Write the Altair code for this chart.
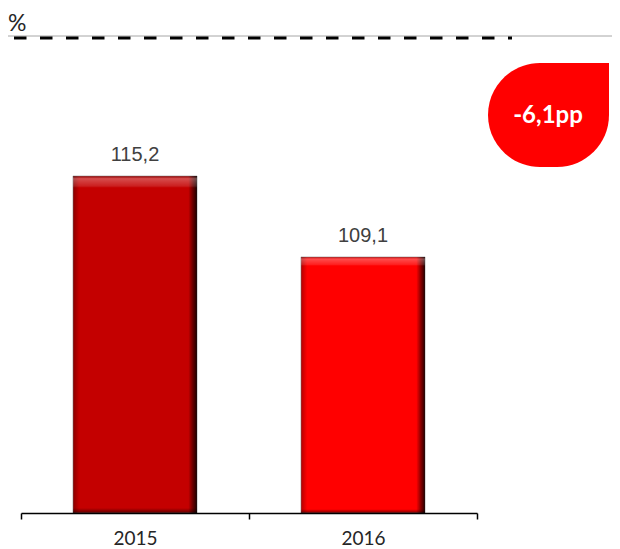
import altair as alt
import pandas as pd

# ---- data ----
years = ["2015", "2016"]
values = [115.2, 109.1]
bar_colors = ["#C40000", "#FF0000"]
labels = ["115,2", "109,1"]
unit_label = "%"
badge_label = "-6,1pp"

df = pd.DataFrame({"year": years, "value": values, "color": bar_colors, "label": labels})

Y_MIN, Y_MAX = 89.8, 127.86

x_enc = alt.X(
    "year:N",
    sort=years,
    title=None,
    scale=alt.Scale(range=[13, 469], paddingInner=0, paddingOuter=0),
    axis=alt.Axis(
        labelAngle=0,
        labelFont="Lato",
        labelFontSize=19,
        labelColor="#262626",
        labelPadding=10,
        domainColor="#000000",
        domainWidth=1.5,
        tickColor="#000000",
        tickWidth=1.5,
        tickSize=6,
        tickBand="extent",
        grid=False,
        zindex=1,
    ),
)
y_enc = alt.Y(
    "value:Q",
    scale=alt.Scale(domain=[Y_MIN, Y_MAX], nice=False, zero=False),
    axis=None,
)

base = alt.Chart(df).encode(x=x_enc, y=y_enc, y2=alt.Y2(datum=Y_MIN))

bw = alt.RelativeBandSize(0.544)

bars = base.mark_bar(width=bw, stroke="#9a9a9a", strokeWidth=1, strokeOpacity=0.6).encode(
    color=alt.Color("color:N", scale=None)
)

shade_h = base.mark_bar(
    width=bw,
    fill=alt.Gradient(
        gradient="linear",
        x1=0, x2=1, y1=0, y2=0,
        stops=[
            alt.GradientStop(color="rgba(0,0,0,0.30)", offset=0),
            alt.GradientStop(color="rgba(0,0,0,0.0)", offset=0.05),
            alt.GradientStop(color="rgba(0,0,0,0.0)", offset=0.93),
            alt.GradientStop(color="rgba(0,0,0,0.45)", offset=0.965),
            alt.GradientStop(color="rgba(0,0,0,0.85)", offset=1),
        ],
    ),
)

shade_v = base.mark_bar(
    width=bw,
    fill=alt.Gradient(
        gradient="linear",
        x1=0, x2=0, y1=0, y2=1,
        stops=[
            alt.GradientStop(color="rgba(0,0,0,0.25)", offset=0),
            alt.GradientStop(color="rgba(255,255,255,0.30)", offset=0.008),
            alt.GradientStop(color="rgba(255,255,255,0.12)", offset=0.03),
            alt.GradientStop(color="rgba(255,255,255,0.0)", offset=0.035),
            alt.GradientStop(color="rgba(0,0,0,0.0)", offset=0.985),
            alt.GradientStop(color="rgba(0,0,0,0.5)", offset=1),
        ],
    ),
)

value_text = base.mark_text(
    font="Liberation Sans", fontSize=20, color="#404040", baseline="bottom", dy=-11
).encode(text="label:N")

# ---- decorations / annotations ----
one = pd.DataFrame({"unit": [unit_label], "badge": [badge_label]})

gray_line = alt.Chart(one).mark_rule(color="#A6A6A6", strokeWidth=1).encode(
    x=alt.value(0), x2=alt.value(604), y=alt.value(28)
)
dash_line = alt.Chart(one).mark_rule(
    color="#000000", strokeWidth=3, strokeDash=[12.5, 13.5]
).encode(x=alt.value(6), x2=alt.value(504), y=alt.value(30))

unit_text = alt.Chart(one).mark_text(
    font="Lato", fontSize=23, color="#262626", align="left", baseline="middle"
).encode(x=alt.value(0), y=alt.value(16), text="unit:N")

badge = alt.Chart(one).mark_rect(
    color="#FF0000",
    cornerRadiusTopLeft=58,
    cornerRadiusBottomLeft=52,
    cornerRadiusBottomRight=52,
    cornerRadiusTopRight=0,
).encode(x=alt.value(480), x2=alt.value(601), y=alt.value(55), y2=alt.value(159))

badge_text = alt.Chart(one).mark_text(
    font="Lato", fontWeight="bold", fontSize=24, color="#FFFFFF", align="center", baseline="middle"
).encode(x=alt.value(540), y=alt.value(108), text="badge:N")

chart = alt.layer(
    gray_line, dash_line, unit_text, bars, shade_h, shade_v, value_text, badge, badge_text
).properties(
    width=604,
    height=505,
    padding={"left": 0, "top": 0, "right": 0, "bottom": 36},
    autosize=alt.AutoSizeParams(type="none"),
).configure_view(stroke=None)

chart.save("out.html", embed_options={"renderer": "svg", "actions": False})
